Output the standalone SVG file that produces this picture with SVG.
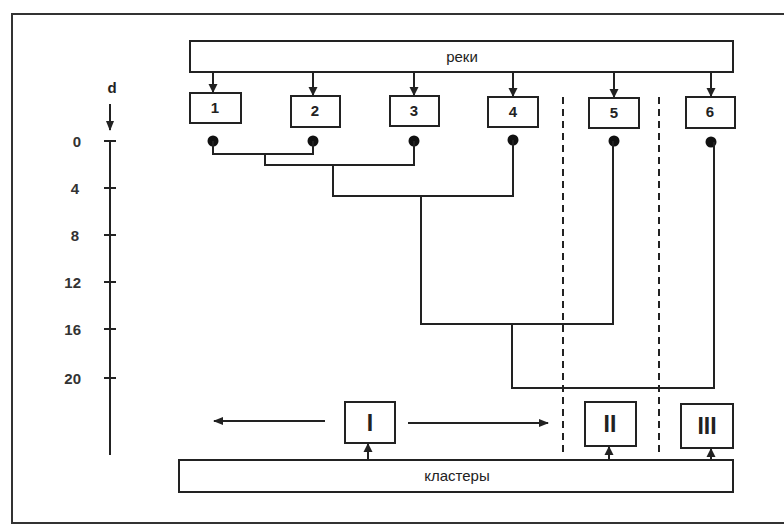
<svg xmlns="http://www.w3.org/2000/svg" width="784" height="524" viewBox="0 0 784 524">
<defs>
<marker id="ah" markerWidth="10" markerHeight="8" refX="9" refY="4" orient="auto" markerUnits="userSpaceOnUse"><path d="M0,0 L10,4 L0,8 z" fill="#222"/></marker>
<marker id="ahs" markerWidth="9" markerHeight="10" refX="8" refY="5" orient="auto" markerUnits="userSpaceOnUse"><path d="M0,0.5 L9,5 L0,9.5 z" fill="#222"/></marker>
<style>
.box{fill:#fff;stroke:#222;stroke-width:2}
.ln{fill:none;stroke:#222;stroke-width:2}
.dash{fill:none;stroke:#222;stroke-width:2;stroke-dasharray:7,5}
.t{font-family:"Liberation Sans",Arial,sans-serif;fill:#222;text-anchor:middle}
.num{font-size:15px;font-weight:bold}
.ax{font-family:"Liberation Sans",Arial,sans-serif;fill:#333;font-size:15px;font-weight:bold;text-anchor:end}
.rom{font-size:23px;font-weight:bold}
.dot{fill:#111}
</style>
</defs>
<rect x="0" y="0" width="784" height="524" fill="#fff"/>
<rect x="12" y="14" width="790" height="509" fill="none" stroke="#333" stroke-width="2"/>

<g id="scale">
<text class="t num" x="112" y="93">d</text>
<line class="ln" x1="110" y1="104" x2="110" y2="130" marker-end="url(#ah)"/>
<line class="ln" x1="110" y1="140" x2="110" y2="455"/>
<path class="ln" d="M104,141H116M104,188H116M104,235H116M104,282H116M104,329H116M104,378H116" stroke-width="1.5"/>
<text class="ax" x="81" y="147">0</text>
<text class="ax" x="79" y="194">4</text>
<text class="ax" x="79" y="241">8</text>
<text class="ax" x="81" y="288">12</text>
<text class="ax" x="81" y="335">16</text>
<text class="ax" x="81" y="384">20</text>
</g>

<g id="rivers"><rect class="box" x="190" y="41" width="543" height="31"/><text class="t" x="462" y="62" font-size="15">реки</text></g>

<g id="n1"><rect class="box" x="190" y="93" width="51" height="30"/><text class="t num" x="215" y="113">1</text></g>
<g id="n2"><rect class="box" x="291" y="96" width="49" height="31"/><text class="t num" x="315" y="116">2</text></g>
<g id="n3"><rect class="box" x="390" y="96" width="49" height="30"/><text class="t num" x="414" y="116">3</text></g>
<g id="n4"><rect class="box" x="488" y="97" width="50" height="30"/><text class="t num" x="513" y="117">4</text></g>
<g id="n5"><rect class="box" x="589" y="98" width="50" height="30"/><text class="t num" x="614" y="118">5</text></g>
<g id="n6"><rect class="box" x="686" y="97" width="49" height="31"/><text class="t num" x="710" y="117">6</text></g>

<g id="c1"><rect class="box" x="345" y="402" width="50" height="41"/><text class="t rom" x="370" y="431">I</text></g>
<g id="c2"><rect class="box" x="585" y="402" width="51" height="44"/><text class="t rom" x="610" y="432">II</text></g>
<g id="c3"><rect class="box" x="681" y="404" width="52" height="44"/><text class="t rom" x="707" y="434">III</text></g>

<g id="clusters"><rect class="box" x="179" y="460" width="554" height="32"/><text class="t" x="457" y="481" font-size="15">кластеры</text></g>

<g id="connectors">
<line class="ln" x1="213" y1="72" x2="213" y2="92" marker-end="url(#ahs)"/>
<line class="ln" x1="313" y1="72" x2="313" y2="95" marker-end="url(#ahs)"/>
<line class="ln" x1="414" y1="72" x2="414" y2="95" marker-end="url(#ahs)"/>
<line class="ln" x1="513" y1="72" x2="513" y2="96" marker-end="url(#ahs)"/>
<line class="ln" x1="614" y1="72" x2="614" y2="97" marker-end="url(#ahs)"/>
<line class="ln" x1="711" y1="72" x2="711" y2="96" marker-end="url(#ahs)"/>
<circle class="dot" cx="213" cy="141" r="5.5"/>
<circle class="dot" cx="313" cy="141" r="5.5"/>
<circle class="dot" cx="414" cy="141" r="5.5"/>
<circle class="dot" cx="513" cy="140" r="5.5"/>
<circle class="dot" cx="614" cy="141" r="5.5"/>
<circle class="dot" cx="711" cy="142" r="5.5"/>
<path class="ln" d="M213,141V154H313V141"/>
<path class="ln" d="M265,154V165H414V141"/>
<path class="ln" d="M333,165V196H513V140"/>
<path class="ln" d="M421,196V324H613V141"/>
<path class="ln" d="M512,324V388H714V142"/>
<line class="dash" x1="563" y1="97" x2="563" y2="454"/>
<line class="dash" x1="659" y1="97" x2="659" y2="455"/>
<line class="ln" x1="325" y1="421" x2="214" y2="421" stroke-width="1.5" marker-end="url(#ah)"/>
<line class="ln" x1="408" y1="423" x2="548" y2="423" stroke-width="1.5" marker-end="url(#ah)"/>
<line class="ln" x1="368" y1="460" x2="368" y2="444" marker-end="url(#ahs)"/>
<line class="ln" x1="609" y1="460" x2="609" y2="447" marker-end="url(#ahs)"/>
<line class="ln" x1="711" y1="460" x2="711" y2="449" marker-end="url(#ahs)"/>
</g>
</svg>
